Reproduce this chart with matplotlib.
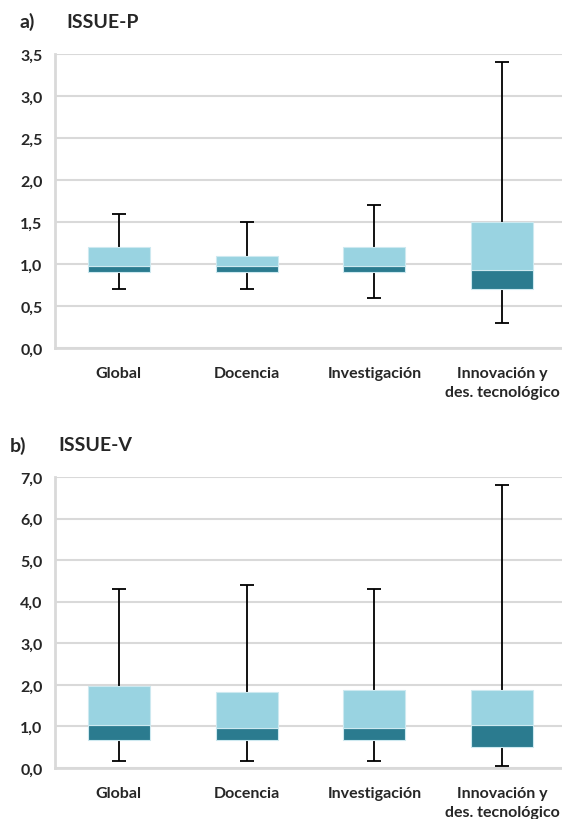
import matplotlib
matplotlib.use('Agg')
import matplotlib.pyplot as plt
from matplotlib.ticker import FuncFormatter

categories = ['Global', 'Docencia', 'Investigación', 'Innovación y\ndes. tecnológico']

# panel a) ISSUE-P : min, q1, median, q3, max
p_min = [0.7, 0.7, 0.6, 0.3]
p_q1 = [0.9, 0.9, 0.9, 0.7]
p_med = [0.98, 0.98, 0.98, 0.93]
p_q3 = [1.2, 1.1, 1.2, 1.5]
p_max = [1.6, 1.5, 1.7, 3.4]

# panel b) ISSUE-V
v_min = [0.17, 0.17, 0.17, 0.06]
v_q1 = [0.68, 0.68, 0.68, 0.5]
v_med = [1.04, 0.97, 0.97, 1.04]
v_q3 = [1.97, 1.83, 1.87, 1.87]
v_max = [4.3, 4.4, 4.3, 6.8]

DARK = '#2b7b8f'
LIGHT = '#99d3e1'
GRID = '#d9d9d9'
TEXT = '#262626'

plt.rcParams['font.family'] = ['Lato', 'DejaVu Sans']
plt.rcParams['font.weight'] = 'bold'

fig = plt.figure(figsize=(5.62, 8.2), dpi=100)


def draw_panel(ax, mins, q1, med, q3, maxs, ymax, step, fmt):
    x = list(range(len(categories)))
    lower = [m - lo for m, lo in zip(med, mins)]
    upper = [hi - m for m, hi in zip(med, maxs)]
    ax.errorbar(x, med, yerr=[lower, upper], fmt='none', ecolor='black',
                elinewidth=1.3, capsize=5, capthick=1.3, zorder=2)
    ax.bar(x, [m - a for m, a in zip(med, q1)], bottom=q1, width=0.485,
           color=DARK, edgecolor='#cde9f0', linewidth=0.8, zorder=3)
    ax.bar(x, [b - m for m, b in zip(med, q3)], bottom=med, width=0.485,
           color=LIGHT, edgecolor='#cde9f0', linewidth=0.8, zorder=3)
    ax.set_xlim(-0.5, len(categories) - 0.5)
    ax.set_ylim(0, ymax)
    ticks = [i * step for i in range(int(round(ymax / step)) + 1)]
    ax.set_yticks(ticks)
    ax.yaxis.set_major_formatter(FuncFormatter(lambda v, p: fmt.format(v).replace('.', ',')))
    ax.set_xticks(x)
    ax.set_xticklabels(categories, fontsize=11.5, color=TEXT, linespacing=1.45)
    ax.tick_params(axis='both', length=0, colors=TEXT)
    ax.tick_params(axis='y', labelsize=11.5, pad=9)
    ax.tick_params(axis='x', pad=13)
    ax.grid(axis='y', color=GRID, linewidth=1.5, zorder=0)
    ax.set_axisbelow(True)
    for s in ['top', 'right']:
        ax.spines[s].set_visible(False)
    for s in ['left', 'bottom']:
        ax.spines[s].set_color(GRID)
        ax.spines[s].set_linewidth(2)


ax1 = fig.add_axes([55 / 562, 1 - 349 / 820, 511 / 562, 294 / 820])
draw_panel(ax1, p_min, p_q1, p_med, p_q3, p_max, 3.5, 0.5, '{:.1f}')

ax2 = fig.add_axes([55 / 562, 1 - 769 / 820, 511 / 562, 291 / 820])
draw_panel(ax2, v_min, v_q1, v_med, v_q3, v_max, 7.0, 1.0, '{:.1f}')

fig.text(19 / 562, 1 - 22 / 820, 'a)', fontsize=14, color=TEXT, va='center')
fig.text(66 / 562, 1 - 22 / 820, 'ISSUE-P', fontsize=14, color=TEXT, va='center')
fig.text(10 / 562, 1 - 446 / 820, 'b)', fontsize=14, color=TEXT, va='center')
fig.text(58 / 562, 1 - 446 / 820, 'ISSUE-V', fontsize=14, color=TEXT, va='center')

fig.savefig('out.png', dpi=100, facecolor='white')
